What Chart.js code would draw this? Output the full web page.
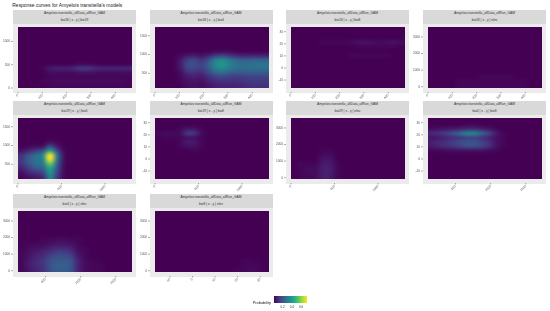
<!DOCTYPE html>
<html>
<head>
<meta charset="utf-8">
<script src="https://cdn.jsdelivr.net/npm/chart.js@4"></script>
<style>
  html, body { margin: 0; background: #fff; overflow: hidden; font-family: "Liberation Sans", sans-serif; }
  #page { position: relative; width: 550px; height: 311px; background: #fff; filter: blur(0.35px); }
  #page div, #page canvas { position: absolute; }
  .title { left: 12.3px; top: 2.2px; font-size: 4.96px; line-height: 7px; color: #222; white-space: nowrap; }
  .strip { background: #d9d9d9; color: #333; font-size: 3.3px; text-align: center; line-height: 6.8px; white-space: nowrap; }
  .back { background: #ebebeb; }
  .legendText { color: #222; white-space: nowrap; }
</style>
</head>
<body>
<div id="page"></div>
<script>
const stripTitle = "Amyelois.transitella_allData_allRun_GAM";
const legendTicks = [0.2, 0.4, 0.6];
const legendMax = 0.72;

// axis ranges and ticks, one per variable
const bio18Range = [0, 469], bio18Ticks = [0, 100, 200, 300, 400];
const bio19Range = [0, 1310], bio19Ticks = [0, 500, 1000];
const bio4Range = [110, 1731], bio4Ticks = [500, 1000, 1500];
const bio8Range = [-16.6, 33.9], bio8Ticks = [-10, 0, 10, 20, 30];
const elevRange = [-80, 3600], elevTicks = [0, 1000, 2000, 3000];

const viridisStops = ["#440154", "#482475", "#414487", "#355f8d", "#2a788e", "#21908c", "#22a884", "#42be71", "#7ad151", "#bddf26", "#fde725"];

// probability in percent, rows top to bottom, 16 columns left to right
const gridBio18Bio19 = [
  [0,0,0,0,0,0,0,0,0,0,0,0,0,0,0,0],
  [0,0,0,0,0,0,0,0,0,0,0,0,0,0,0,0],
  [0,0,0,0,0,0,0,0,0,0,0,0,0,0,0,0],
  [0,0,0,0,0,0,0,0,0,0,0,0,0,0,0,0],
  [0,0,0,0,0,0,0,0,0,0,0,0,0,0,0,0],
  [0,0,0,0,0,0,0,0,0,0,0,0,0,0,0,0],
  [0,0,0,0,0,0,0,0,0,0,0,0,0,0,0,0],
  [0,0,0,0,0,0,0,0,0,0,0,0,0,0,0,0],
  [0,0,0,0,0,0,0,0,1,1,1,0,0,0,0,0],
  [0,0,0,1,5,6,6,7,11,12,9,7,7,7,7,7],
  [0,0,0,0,2,2,2,2,3,3,3,2,2,2,2,2],
  [0,0,0,0,1,1,1,1,1,1,1,1,1,1,1,1],
  [0,0,0,1,1,2,2,2,2,2,2,2,2,2,2,1],
  [0,0,0,0,1,1,1,1,1,1,1,1,1,1,1,1]
];
const gridBio18Bio4 = [
  [0,0,0,0,0,0,0,0,0,0,0,0,0,0,0,0],
  [0,0,0,0,0,0,0,0,0,0,0,0,0,0,0,0],
  [0,0,0,0,0,0,0,0,0,0,0,0,0,0,0,0],
  [0,0,0,0,0,0,0,0,0,0,0,0,0,0,0,0],
  [0,0,0,0,0,0,0,0,0,0,0,0,0,0,0,0],
  [0,0,0,0,0,0,0,0,1,1,1,0,0,0,0,0],
  [0,0,0,1,4,5,3,6,11,13,10,7,6,6,6,6],
  [0,0,0,4,12,15,10,17,30,34,28,22,20,21,21,21],
  [0,0,0,5,15,17,14,22,34,38,31,27,25,26,27,27],
  [0,0,0,4,14,15,13,20,31,34,29,26,25,26,26,26],
  [0,0,0,2,9,10,8,15,23,25,21,19,20,20,20,20],
  [0,0,0,1,5,6,5,9,13,15,13,12,13,14,14,14],
  [0,0,0,1,3,4,3,6,9,10,10,10,11,12,12,12],
  [0,0,0,0,2,3,2,4,6,7,7,7,8,10,10,10]
];
const gridBio18Bio8 = [
  [0,0,0,0,0,0,0,0,0,0,0,0,0,0,0,0],
  [0,0,0,0,0,0,0,0,0,0,0,0,0,0,0,0],
  [0,0,0,0,0,0,0,0,0,0,0,0,0,0,0,0],
  [0,0,0,0,1,1,1,1,2,3,3,3,2,3,3,2],
  [0,0,0,0,0,0,0,0,0,1,1,1,1,1,1,0],
  [0,0,0,0,0,0,0,0,0,0,0,0,0,0,0,0],
  [0,0,0,0,0,0,0,0,1,1,1,1,1,1,0,0],
  [0,0,0,0,0,0,0,0,0,0,0,0,0,0,0,0],
  [0,0,0,0,0,0,0,0,0,0,0,0,0,0,0,0],
  [0,0,0,0,0,0,0,0,0,0,0,0,0,0,0,0],
  [0,0,0,0,0,0,0,0,0,0,0,0,0,0,0,0],
  [0,0,0,0,0,0,0,0,0,0,0,0,0,0,0,0],
  [0,0,0,0,0,0,0,0,0,0,0,0,0,0,0,0],
  [0,0,0,0,0,0,0,0,0,0,0,0,0,0,0,0]
];
const gridBio18Elev = [
  [0,0,0,0,0,0,0,0,0,0,0,0,0,0,0,0],
  [0,0,0,0,0,0,0,0,0,0,0,0,0,0,0,0],
  [0,0,0,0,0,0,0,0,0,0,0,0,0,0,0,0],
  [0,0,0,0,0,0,0,0,0,0,0,0,0,0,0,0],
  [0,0,0,0,0,0,0,0,0,0,0,0,0,0,0,0],
  [0,0,0,0,0,0,0,0,0,0,0,0,0,0,0,0],
  [0,0,0,0,0,0,0,0,0,0,0,0,0,0,0,0],
  [0,0,0,0,0,0,0,0,0,0,0,0,0,0,0,0],
  [0,0,0,0,0,0,0,0,0,0,0,0,0,0,0,0],
  [0,0,0,0,0,0,0,0,0,0,0,0,0,0,0,0],
  [0,0,0,0,0,0,0,0,0,0,0,0,0,0,0,0],
  [0,0,0,0,0,0,0,1,1,1,1,1,0,0,0,0],
  [0,0,0,0,1,1,1,1,1,1,1,1,1,1,0,0],
  [0,0,0,0,1,1,1,1,1,1,1,1,1,1,0,0]
];
const gridBio19Bio4 = [
  [0,0,0,0,0,0,0,0,0,0,0,0,0,0,0,0],
  [0,0,0,0,0,0,0,0,0,0,0,0,0,0,0,0],
  [0,0,0,0,0,0,0,0,0,0,0,0,0,0,0,0],
  [0,0,0,0,0,0,0,0,0,0,0,0,0,0,0,0],
  [0,0,0,0,0,0,0,0,0,0,0,0,0,0,0,0],
  [0,0,0,0,3,1,0,0,0,0,0,0,0,0,0,0],
  [0,1,2,3,16,5,0,0,0,0,0,0,0,0,0,0],
  [3,7,12,17,42,15,1,0,0,0,0,0,0,0,0,0],
  [10,18,25,33,72,28,2,0,0,0,0,0,0,0,0,0],
  [12,21,27,33,72,27,2,0,0,0,0,0,0,0,0,0],
  [11,19,26,29,55,22,2,0,0,0,0,0,0,0,0,0],
  [7,13,20,23,43,18,1,0,0,0,0,0,0,0,0,0],
  [3,8,11,15,38,15,1,0,0,0,0,0,0,0,0,0],
  [1,3,5,8,33,12,1,0,0,0,0,0,0,0,0,0]
];
const gridBio19Bio8 = [
  [0,0,0,0,0,0,0,0,0,0,0,0,0,0,0,0],
  [0,0,0,0,0,0,0,0,0,0,0,0,0,0,0,0],
  [0,0,0,1,4,4,1,0,0,0,0,0,0,0,0,0],
  [1,2,2,2,12,11,2,0,0,0,0,0,0,0,0,0],
  [0,1,1,1,3,3,1,0,0,0,0,0,0,0,0,0],
  [0,0,0,1,5,5,1,0,0,0,0,0,0,0,0,0],
  [0,0,0,1,3,3,1,0,0,0,0,0,0,0,0,0],
  [0,0,0,0,0,1,0,0,0,0,0,0,0,0,0,0],
  [0,0,0,0,0,0,0,0,0,0,0,0,0,0,0,0],
  [0,0,0,0,0,0,0,0,0,0,0,0,0,0,0,0],
  [0,0,0,0,0,0,0,0,0,0,0,0,0,0,0,0],
  [0,0,0,0,0,0,0,0,0,0,0,0,0,0,0,0],
  [0,0,0,0,0,0,0,0,0,0,0,0,0,0,0,0],
  [0,0,0,0,0,0,0,0,0,0,0,0,0,0,0,0]
];
const gridBio19Elev = [
  [0,0,0,0,0,0,0,0,0,0,0,0,0,0,0,0],
  [0,0,0,0,0,0,0,0,0,0,0,0,0,0,0,0],
  [0,0,0,0,0,0,0,0,0,0,0,0,0,0,0,0],
  [0,0,0,0,0,0,0,0,0,0,0,0,0,0,0,0],
  [0,0,0,0,0,0,0,0,0,0,0,0,0,0,0,0],
  [0,0,0,0,0,0,0,0,0,0,0,0,0,0,0,0],
  [0,0,0,0,0,0,0,0,0,0,0,0,0,0,0,0],
  [0,0,0,0,1,1,0,0,0,0,0,0,0,0,0,0],
  [0,0,0,0,2,2,0,0,0,0,0,0,0,0,0,0],
  [0,0,0,0,4,4,0,0,0,0,0,0,0,0,0,0],
  [0,1,1,1,5,5,1,0,0,0,0,0,0,0,0,0],
  [0,1,2,2,6,6,1,0,0,0,0,0,0,0,0,0],
  [0,1,2,2,6,6,1,0,0,0,0,0,0,0,0,0],
  [0,1,1,2,6,5,1,0,0,0,0,0,0,0,0,0]
];
const gridBio4Bio8 = [
  [0,0,0,0,0,0,0,0,0,0,0,0,0,0,0,0],
  [0,0,0,0,0,1,1,0,0,0,0,0,0,0,0,0],
  [2,3,4,5,6,8,8,6,4,1,0,0,0,0,0,0],
  [8,10,13,18,25,32,33,24,15,6,1,0,0,0,0,0],
  [4,5,7,9,11,14,14,11,7,3,1,0,0,0,0,0],
  [6,8,10,13,16,18,18,14,10,4,1,0,0,0,0,0],
  [5,7,9,11,14,17,17,14,10,4,1,0,0,0,0,0],
  [1,1,2,2,3,3,3,3,2,1,0,0,0,0,0,0],
  [0,0,0,0,0,0,0,0,0,0,0,0,0,0,0,0],
  [0,0,0,0,0,0,0,0,0,0,0,0,0,0,0,0],
  [0,0,0,0,0,0,0,0,0,0,0,0,0,0,0,0],
  [0,0,0,0,0,0,0,0,0,0,0,0,0,0,0,0],
  [0,0,0,0,0,0,0,0,0,0,0,0,0,0,0,0],
  [0,0,0,0,0,0,0,0,0,0,0,0,0,0,0,0]
];
const gridBio4Elev = [
  [0,0,0,0,0,0,0,0,0,0,0,0,0,0,0,0],
  [0,0,0,0,0,0,0,0,0,0,0,0,0,0,0,0],
  [0,0,0,0,0,0,0,0,0,0,0,0,0,0,0,0],
  [0,0,0,0,0,0,0,0,0,0,0,0,0,0,0,0],
  [0,0,0,0,0,0,0,0,0,0,0,0,0,0,0,0],
  [0,0,0,0,0,0,0,0,0,0,0,0,0,0,0,0],
  [0,0,0,1,1,2,2,1,1,0,0,0,0,0,0,0],
  [0,1,1,2,3,4,4,3,1,0,0,0,0,0,0,0],
  [0,2,3,4,6,8,8,6,2,1,0,0,0,0,0,0],
  [1,3,5,7,10,13,13,10,3,1,0,0,0,0,0,0],
  [1,4,7,9,14,17,17,14,5,1,0,0,0,0,0,0],
  [1,5,8,11,17,20,20,17,6,2,1,0,0,0,0,0],
  [1,5,8,11,18,22,22,18,6,2,1,1,0,0,0,0],
  [1,4,7,10,17,21,21,17,6,2,1,1,0,0,0,0]
];
const gridBio8Elev = [
  [0,0,0,0,0,0,0,0,0,0,0,0,0,0,0,0],
  [0,0,0,0,0,0,0,0,0,0,0,0,0,0,0,0],
  [0,0,0,0,0,0,0,0,0,0,0,0,0,0,0,0],
  [0,0,0,0,0,0,0,0,0,0,0,0,0,0,0,0],
  [0,0,0,0,0,0,0,0,0,0,0,0,0,0,0,0],
  [0,0,0,0,0,0,0,0,0,0,0,0,0,0,0,0],
  [0,0,0,0,0,0,0,0,0,0,0,0,0,0,0,0],
  [0,0,0,0,0,0,0,0,0,0,0,0,0,0,0,0],
  [0,0,0,0,0,0,0,0,0,0,0,0,0,0,0,0],
  [0,0,0,0,0,0,0,0,0,0,0,0,0,0,0,0],
  [0,0,0,0,0,0,0,0,0,0,0,0,0,0,0,0],
  [0,0,0,0,0,0,0,0,0,0,0,0,1,1,0,0],
  [0,0,0,0,0,0,0,0,0,0,0,0,1,1,1,0],
  [0,0,0,0,0,0,0,0,0,0,0,1,1,2,1,0]
];

const bio18 = { range: bio18Range, ticks: bio18Ticks, name: "bio18" };
const bio19 = { range: bio19Range, ticks: bio19Ticks, name: "bio19" };
const bio4 = { range: bio4Range, ticks: bio4Ticks, name: "bio4" };
const bio8 = { range: bio8Range, ticks: bio8Ticks, name: "bio8" };
const elev = { range: elevRange, ticks: elevTicks, name: "elev" };

const colLefts = [18, 154.5, 291, 428];
const rowTops = [27, 118.3, 211];
const plotW = 114, plotH = 61;

const panels = [
  { col: 0, row: 0, x: bio18, y: bio19, grid: gridBio18Bio19 },
  { col: 1, row: 0, x: bio18, y: bio4, grid: gridBio18Bio4 },
  { col: 2, row: 0, x: bio18, y: bio8, grid: gridBio18Bio8 },
  { col: 3, row: 0, x: bio18, y: elev, grid: gridBio18Elev },
  { col: 0, row: 1, x: bio19, y: bio4, grid: gridBio19Bio4 },
  { col: 1, row: 1, x: bio19, y: bio8, grid: gridBio19Bio8 },
  { col: 2, row: 1, x: bio19, y: elev, grid: gridBio19Elev },
  { col: 3, row: 1, x: bio4, y: bio8, grid: gridBio4Bio8 },
  { col: 0, row: 2, x: bio4, y: elev, grid: gridBio4Elev },
  { col: 1, row: 2, x: bio8, y: elev, grid: gridBio8Elev }
];

function viridis(p) {
  const t = Math.min(1, Math.max(0, p / 100 / legendMax)) * (viridisStops.length - 1);
  const i = Math.min(viridisStops.length - 2, Math.floor(t));
  const c = k => [1, 3, 5].map(o => parseInt(viridisStops[k].substr(o, 2), 16));
  const a = c(i), b = c(i + 1);
  return a.map((v, n) => Math.round(v + (b[n] - v) * (t - i)));
}

// paints the cells as one smoothed image placed through the chart's scales,
// then the tick marks, which sit outside the grey panel
const heatPlugin = {
  id: 'heat',
  beforeDatasetsDraw(chart) {
    const cells = chart.data.datasets[0].data;
    const rows = chart.options.plugins.heat.rows, cols = chart.options.plugins.heat.cols;
    const off = document.createElement('canvas');
    off.width = cols;
    off.height = rows;
    const octx = off.getContext('2d');
    const img = octx.createImageData(cols, rows);
    cells.forEach(cell => {
      const rgb = viridis(cell.v);
      const k = (cell.r * cols + cell.c) * 4;
      img.data[k] = rgb[0];
      img.data[k + 1] = rgb[1];
      img.data[k + 2] = rgb[2];
      img.data[k + 3] = 255;
    });
    octx.putImageData(img, 0, 0);
    const { x, y } = chart.scales;
    const left = x.getPixelForValue(x.min), right = x.getPixelForValue(x.max);
    const top = y.getPixelForValue(y.max), bottom = y.getPixelForValue(y.min);
    const ctx = chart.ctx;
    ctx.save();
    ctx.imageSmoothingEnabled = true;
    ctx.imageSmoothingQuality = 'high';
    ctx.drawImage(off, left, top, right - left, bottom - top);
    ctx.strokeStyle = '#555';
    ctx.lineWidth = 0.5;
    ctx.beginPath();
    x.ticks.forEach(t => {
      const px = x.getPixelForValue(t.value);
      ctx.moveTo(px, bottom + 4);
      ctx.lineTo(px, bottom + 5.5);
    });
    y.ticks.forEach(t => {
      const py = y.getPixelForValue(t.value);
      ctx.moveTo(left - 7, py);
      ctx.lineTo(left - 5, py);
    });
    ctx.stroke();
    ctx.restore();
  }
};

function axis(v, pos, size) {
  return {
    type: 'linear',
    position: pos,
    min: v.range[0],
    max: v.range[1],
    afterBuildTicks: s => { s.ticks = v.ticks.map(t => ({ value: t })); },
    afterFit: s => {
      if (pos === 'left') s.width = size; else s.height = size;
      s.paddingLeft = s.paddingRight = s.paddingTop = s.paddingBottom = 0;
    },
    border: { display: false },
    grid: { display: true, drawOnChartArea: false, drawTicks: false },
    ticks: {
      autoSkip: false,
      color: '#555',
      font: { family: 'Liberation Sans', size: 3.2 },
      padding: pos === 'left' ? 8 : 5.5,
      minRotation: pos === 'left' ? 0 : 45,
      maxRotation: pos === 'left' ? 0 : 45,
      callback: t => String(t)
    }
  };
}

function addDiv(cls, css, text) {
  const d = document.createElement('div');
  d.className = cls;
  d.style.cssText = css;
  if (text) d.innerHTML = text;
  document.getElementById('page').appendChild(d);
  return d;
}

addDiv('title', '', "Response curves for Amyelois transitella's models");

panels.forEach(p => {
  const left = colLefts[p.col], top = rowTops[p.row];
  addDiv('back', `left:${left - 5}px;top:${top - 3.5}px;width:${plotW + 9}px;height:${plotH + 8}px`);
  addDiv('strip', `left:${left - 5}px;top:${top - 17}px;width:${plotW + 9}px;height:13.5px`,
    `${stripTitle}<br>${p.x.name} | x - y | ${p.y.name}`);

  const cv = document.createElement('canvas');
  const marginL = 18, marginT = 2, marginB = 16, marginR = 2;
  cv.width = plotW + marginL + marginR;
  cv.height = plotH + marginT + marginB;
  cv.style.cssText = `left:${left - marginL}px;top:${top - marginT}px;width:${cv.width}px;height:${cv.height}px`;
  document.getElementById('page').appendChild(cv);

  const rows = p.grid.length, cols = p.grid[0].length;
  const cells = [];
  p.grid.forEach((line, r) => line.forEach((v, c) => {
    cells.push({
      x: p.x.range[0] + (c + 0.5) / cols * (p.x.range[1] - p.x.range[0]),
      y: p.y.range[1] - (r + 0.5) / rows * (p.y.range[1] - p.y.range[0]),
      v, r, c
    });
  }));

  new Chart(cv.getContext('2d'), {
    type: 'scatter',
    data: { datasets: [{ data: cells, pointRadius: 0 }] },
    options: {
      responsive: false,
      animation: false,
      devicePixelRatio: 1,
      layout: { autoPadding: false, padding: { top: marginT, right: marginR, left: 0, bottom: 0 } },
      plugins: { legend: { display: false }, tooltip: { enabled: false }, heat: { rows, cols } },
      scales: { x: axis(p.x, 'bottom', marginB), y: axis(p.y, 'left', marginL) }
    },
    plugins: [heatPlugin]
  });
});

// colour bar
const barLeft = 274, barWidth = 33.3;
const gradStops = viridisStops.map((c, i) => `${c} ${i * 10}%`).join(',');
addDiv('', `left:${barLeft}px;top:296px;width:${barWidth}px;height:6.7px;background:linear-gradient(to right,${gradStops})`);
addDiv('legendText', 'left:252.7px;top:299.5px;font-size:3.9px;line-height:5px', 'Probability');
legendTicks.forEach(t => {
  addDiv('legendText', `left:${barLeft - 4 + t / legendMax * barWidth - 0.6}px;width:8px;text-align:center;top:304.5px;font-size:3px;line-height:4px;color:#333`, t.toFixed(1));
});
</script>
</body>
</html>
